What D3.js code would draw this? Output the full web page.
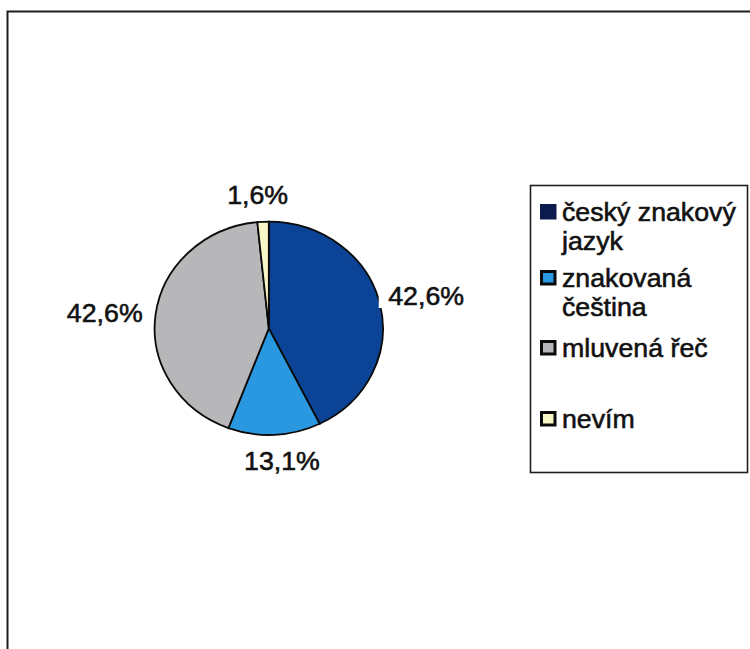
<!DOCTYPE html>
<html>
<head>
<meta charset="utf-8">
<script src="https://cdn.jsdelivr.net/npm/d3@7"></script>
<style>
  html, body { margin: 0; padding: 0; background: #fff; }
  svg { display: block; }
  text { font-family: "Liberation Sans", Arial, sans-serif; fill: #111; stroke: #111; stroke-width: 0.55px; }
</style>
</head>
<body>
<svg id="chart" width="750" height="649"></svg>
<script>
// Preferred communication language (share of respondents, %)
const categories = ["český znakový jazyk", "znakovaná čeština", "mluvená řeč", "nevím"];
const legendLines = [["český znakový", "jazyk"], ["znakovaná", "čeština"], ["mluvená řeč"], ["nevím"]];
const values = [42.6, 13.1, 42.6, 1.6];
const valueLabels = ["42,6%", "13,1%", "42,6%", "1,6%"];
const colors = ["#0b4496", "#2a98e0", "#b7b7b9", "#faf7c6"];

const W = 750, H = 649;
const svg = d3.select("#chart");
const stretch = 1.07;          // text and pie are slightly wider than tall
const fontSize = 25;

// outer frame (top and left edges visible)
svg.append("path")
  .attr("d", `M7.5,${H} L7.5,11.5 L${W},11.5`)
  .attr("fill", "none").attr("stroke", "#1e1e1e").attr("stroke-width", 2);

// pie
const cx = 268.8, cy = 328.3, ry = 106.7, rx = ry * stretch;
const pie = d3.pie().sort(null).value(d => d)(values);
const arc = d3.arc().innerRadius(0).outerRadius(ry);
const pieG = svg.append("g").attr("transform", `translate(${cx},${cy}) scale(${stretch},1)`);
pieG.selectAll("path").data(pie).join("path")
  .attr("d", arc)
  .attr("fill", (d, i) => colors[i])
  .attr("stroke", "#0a0a0a")
  .attr("stroke-width", 1.8)
  .attr("vector-effect", "non-scaling-stroke");

// value labels placed outside each slice along its mid-angle
const gap = 8;
const labelAdjust = [[0.5, -6], [7, 7], [-5, 0], [-5, -7.5]];
pie.forEach((d, i) => {
  const a = (d.startAngle + d.endAngle) / 2;
  const s = Math.sin(a), c = Math.cos(a);
  let px = cx + (rx + gap) * s;
  let py = cy - (ry + gap) * c;
  let anchor = "middle";
  if (s > 0.4) anchor = "start";
  else if (s < -0.4) anchor = "end";
  else py += (c > 0 ? -11 : 11);
  px += labelAdjust[i][0];
  py += labelAdjust[i][1];
  const t = svg.append("text")
    .attr("transform", `translate(${px},${py}) scale(${stretch},1)`)
    .attr("text-anchor", anchor)
    .attr("dy", "0.35em")
    .attr("font-size", fontSize)
    .text(valueLabels[i]);
  if (anchor === "start") {
    // white label background just touching the slice edge
    const bb = t.node().getBBox();
    svg.insert("rect", "text")
      .attr("x", px - 9.5).attr("y", py - 4)
      .attr("width", bb.width * stretch + 12).attr("height", 16)
      .attr("fill", "#fff");
  }
});

// legend
const lg = svg.append("g");
lg.append("rect")
  .attr("x", 530.5).attr("y", 185.5).attr("width", 217).attr("height", 287)
  .attr("fill", "#fff").attr("stroke", "#1e1e1e").attr("stroke-width", 1.6);

const lineH = 29;
const entryGap = [0, 37, 41, 71];
let base = 221;
legendLines.forEach((lines, i) => {
  base += entryGap[i] + (i > 0 ? (legendLines[i - 1].length - 1) * lineH : 0);
  if (i === 0) {
    lg.append("rect")
      .attr("x", 540).attr("y", base - 17).attr("width", 16.5).attr("height", 15.5)
      .attr("fill", "#0b1c4c");
  } else {
    lg.append("rect")
      .attr("x", 541.5).attr("y", base - 15.5).attr("width", 13.5).attr("height", 12.5)
      .attr("fill", colors[i])
      .attr("stroke", "#0a0a0a").attr("stroke-width", 3);
  }
  lines.forEach((ln, j) => {
    lg.append("text")
      .attr("transform", `translate(562,${base + j * lineH}) scale(${stretch},1)`)
      .attr("font-size", fontSize)
      .text(ln);
  });
});
</script>
</body>
</html>
